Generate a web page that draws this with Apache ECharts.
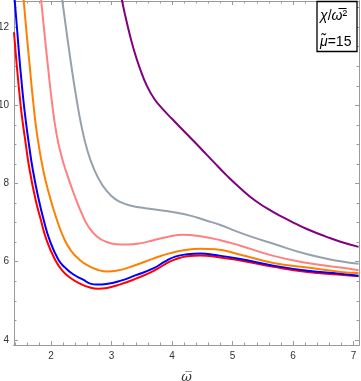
<!DOCTYPE html>
<html>
<head>
<meta charset="utf-8">
<script src="https://cdn.jsdelivr.net/npm/echarts@6/dist/echarts.min.js"></script>
<style>
  html, body { margin: 0; padding: 0; background: #fff; }
  #chart { width: 361px; height: 381px; }
</style>
</head>
<body>
<div id="chart"></div>
<script>
// curves: [omega bar, chi / omega bar^2]
const redCurve = [[1.387,11.87],[1.421,11.23],[1.454,10.67],[1.487,10.15],[1.520,9.69],[1.575,9.08],[1.644,8.36],[1.743,7.59],[1.829,7.08],[1.925,6.56],[2.066,6.05],[2.182,5.78],[2.315,5.59],[2.480,5.44],[2.646,5.34],[2.778,5.31],[2.927,5.33],[3.142,5.42],[3.391,5.56],[3.689,5.76],[3.887,5.94],[4.053,6.06],[4.252,6.14],[4.467,6.16],[4.715,6.13],[5.129,6.03],[5.675,5.87],[6.238,5.74],[6.785,5.67],[7.083,5.63]];
const blueCurve = [[1.397,12.72],[1.442,11.87],[1.475,11.23],[1.508,10.67],[1.541,10.15],[1.575,9.69],[1.627,9.08],[1.697,8.36],[1.796,7.59],[1.876,7.08],[1.975,6.56],[2.121,6.05],[2.232,5.85],[2.364,5.68],[2.530,5.54],[2.646,5.44],[2.762,5.415],[2.911,5.43],[3.142,5.51],[3.391,5.65],[3.689,5.83],[3.887,6.01],[4.053,6.13],[4.252,6.19],[4.467,6.21],[4.715,6.17],[5.129,6.07],[5.675,5.90],[6.238,5.77],[6.785,5.69],[7.083,5.64]];
const orangeCurve = [[1.545,12.72],[1.594,11.87],[1.649,10.97],[1.705,10.08],[1.768,9.26],[1.868,8.36],[1.975,7.69],[2.094,7.08],[2.215,6.59],[2.331,6.28],[2.464,6.06],[2.613,5.90],[2.778,5.79],[2.927,5.75],[3.076,5.77],[3.391,5.91],[3.689,6.08],[3.970,6.22],[4.219,6.30],[4.467,6.33],[4.715,6.32],[5.129,6.18],[5.675,5.97],[6.238,5.85],[6.785,5.74],[7.083,5.71]];
const pinkCurve = [[1.834,12.72],[1.889,11.87],[1.950,10.97],[2.017,10.05],[2.091,9.26],[2.166,8.74],[2.248,8.31],[2.381,7.72],[2.513,7.21],[2.629,6.87],[2.762,6.64],[2.911,6.51],[3.076,6.45],[3.258,6.44],[3.474,6.47],[3.689,6.55],[3.937,6.64],[4.185,6.69],[4.467,6.65],[4.798,6.55],[5.129,6.41],[5.675,6.15],[6.238,5.97],[6.785,5.85],[7.083,5.78]];
const grayCurve = [[2.182,12.72],[2.257,11.87],[2.339,10.97],[2.422,10.15],[2.497,9.51],[2.596,8.87],[2.712,8.36],[2.844,7.97],[2.993,7.69],[3.142,7.53],[3.308,7.44],[3.556,7.37],[3.805,7.32],[4.053,7.26],[4.301,7.18],[4.550,7.06],[4.798,6.94],[5.046,6.79],[5.295,6.65],[5.675,6.46],[6.238,6.19],[6.785,6.01],[7.083,5.95]];
const purpleCurve = [[3.167,12.72],[3.258,12.08],[3.363,11.45],[3.474,10.92],[3.584,10.50],[3.705,10.17],[3.854,9.89],[4.003,9.65],[4.247,9.26],[4.467,8.91],[4.682,8.56],[4.914,8.19],[5.129,7.88],[5.377,7.56],[5.675,7.27],[5.957,7.04],[6.238,6.83],[6.536,6.65],[6.785,6.51],[7.083,6.38]];

const xTicks = [2, 3, 4, 5, 6, 7];
const xMinorTicks = [1.4,1.6,1.8,2.2,2.4,2.6,2.8,3.2,3.4,3.6,3.8,4.2,4.4,4.6,4.8,5.2,5.4,5.6,5.8,6.2,6.4,6.6,6.8,7.0];
const yTicks = [4, 6, 8, 10, 12];
const yMinorTicks = [4.5,5,5.5,6.5,7,7.5,8.5,9,9.5,10.5,11,11.5,12.5];

const frameColor = '#9a9a9a';
const labelFont = 'Liberation Sans';

function fnc_frame_axis(position, min, max, ticks, tickLength, withLabels){
    let axis = {
        type: 'value',
        position: position,
        min: min,
        max: max,
        splitLine: { show: false },
        axisLine: { show: true, onZero: false, lineStyle: { color: frameColor, width: 1 } },
        axisTick: { show: true, inside: true, length: tickLength, customValues: ticks, lineStyle: { color: frameColor, width: 1 } },
        axisLabel: { show: false }
    };
    if(withLabels){
        axis.axisLabel = {
            show: true,
            customValues: ticks,
            color: '#333',
            fontSize: 10,
            fontFamily: labelFont,
            margin: (position == 'left') ? 5 : 6
        };
    }
    return axis;
}

function fnc_curve(data, color, width){
    return {
        type: 'line',
        data: data,
        smooth: 0.5,
        showSymbol: false,
        clip: true,
        xAxisIndex: 0,
        yAxisIndex: 0,
        lineStyle: { color: color, width: width },
        itemStyle: { color: color }
    };
}

let xMin = 1.387, xMax = 7.09;
let yMin = 3.87, yMax = 12.67;

let xAxes = [
    fnc_frame_axis('bottom', xMin, xMax, xTicks, 4, true),
    fnc_frame_axis('bottom', xMin, xMax, xMinorTicks, 2.5, false),
    fnc_frame_axis('top', xMin, xMax, xTicks, 4, false),
    fnc_frame_axis('top', xMin, xMax, xMinorTicks, 2.5, false)
];
xAxes[0].name = 'ω\u0305';
xAxes[0].nameLocation = 'middle';
xAxes[0].nameGap = 26;
xAxes[0].nameTextStyle = { fontSize: 13, fontStyle: 'italic', fontFamily: 'DejaVu Serif', color: '#333' };

let yAxes = [
    fnc_frame_axis('left', yMin, yMax, yTicks, 4, true),
    fnc_frame_axis('left', yMin, yMax, yMinorTicks, 2.5, false),
    fnc_frame_axis('right', yMin, yMax, yTicks, 4, false),
    fnc_frame_axis('right', yMin, yMax, yMinorTicks, 2.5, false)
];

let chart = echarts.init(document.getElementById('chart'), null, { renderer: 'canvas' });

chart.setOption({
    animation: false,
    backgroundColor: '#fff',
    grid: { left: 14, right: 2, top: 1, bottom: 36, containLabel: false, outerBoundsMode: 'none' },
    xAxis: xAxes,
    yAxis: yAxes,
    series: [
        fnc_curve(redCurve, '#ff0000', 2),
        fnc_curve(blueCurve, '#0000ff', 2),
        fnc_curve(orangeCurve, '#ff8000', 2),
        fnc_curve(pinkCurve, '#ff8080', 2),
        fnc_curve(grayCurve, '#95a1ad', 2),
        fnc_curve(purpleCurve, '#800080', 2)
    ],
    graphic: [
        {
            type: 'rect',
            z: 100,
            shape: { x: 317, y: 1.5, width: 40, height: 50 },
            style: { fill: '#fff', stroke: '#000', lineWidth: 1.3 }
        },
        {
            type: 'text',
            z: 101,
            x: 320,
            y: 16,
            style: {
                text: '{i|χ}/{i|ω\u0305}²',
                font: '14px ' + labelFont,
                fill: '#000',
                verticalAlign: 'middle',
                rich: { i: { fontStyle: 'italic', fontSize: 14, fontFamily: labelFont } }
            }
        },
        {
            type: 'text',
            z: 101,
            x: 320,
            y: 42,
            style: {
                text: '{i|μ\u0303}=15',
                font: '14px ' + labelFont,
                fill: '#000',
                verticalAlign: 'middle',
                rich: { i: { fontStyle: 'italic', fontSize: 14, fontFamily: labelFont } }
            }
        }
    ]
});
</script>
</body>
</html>
